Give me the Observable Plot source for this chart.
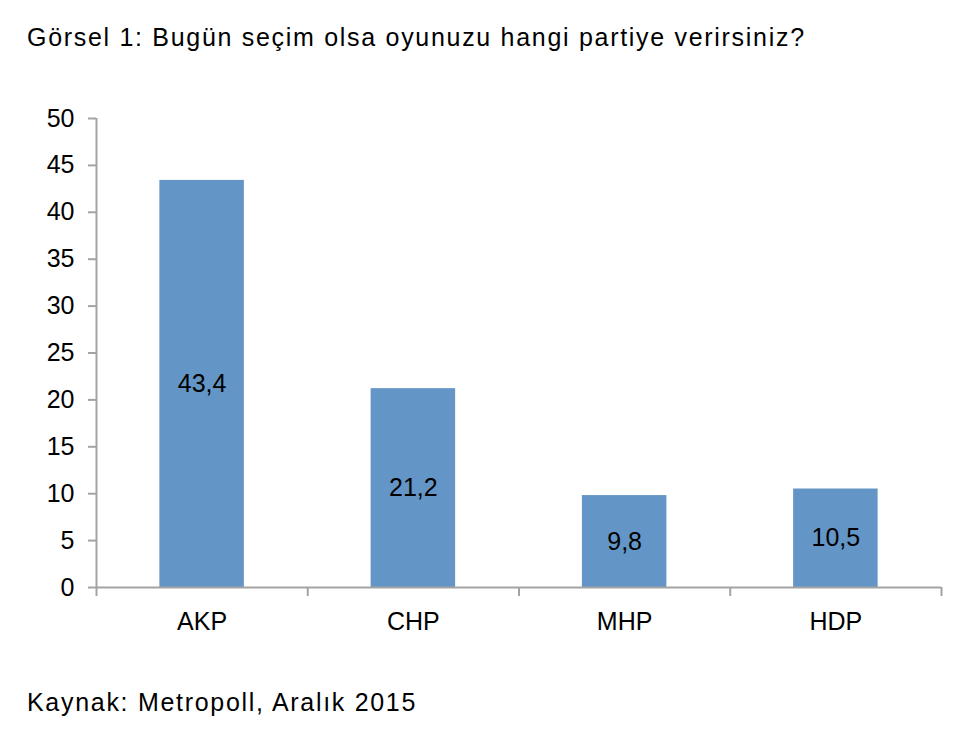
<!DOCTYPE html>
<html>
<head>
<meta charset="utf-8">
<script src="https://cdn.jsdelivr.net/npm/d3@7"></script>
<script src="https://cdn.jsdelivr.net/npm/@observablehq/plot@0.6"></script>
<style>
  body { margin: 0; background: #fff; font-family: "Liberation Sans", Arial, sans-serif; }
  #wrap { position: relative; width: 962px; height: 738px; }
  .title, .caption { position: absolute; left: 27px; font-size: 25px; line-height: 1; letter-spacing: 1.7px; color: #000; white-space: nowrap; }
  .title { top: 25px; }
  .caption { top: 690px; }
  #chart { position: absolute; left: 0; top: 80px; }
</style>
</head>
<body>
<div id="wrap">
  <div class="title">Görsel 1: Bugün seçim olsa oyunuzu hangi partiye verirsiniz?</div>
  <div id="chart"></div>
  <div class="caption">Kaynak: Metropoll, Aralık 2015</div>
</div>
<script>
const parties = ["AKP", "CHP", "MHP", "HDP"];
const shares = [43.4, 21.2, 9.8, 10.5];
const yTicks = [0, 5, 10, 15, 20, 25, 30, 35, 40, 45, 50];

const rows = parties.map((p, i) => ({party: p, i, value: shares[i]}));
const fmt = v => String(v).replace(".", ",");
const gray = "#a3a3a3";

const chart = Plot.plot({
  width: 962,
  height: 580,
  marginLeft: 96,
  marginRight: 21,
  marginTop: 38,
  marginBottom: 73,
  style: {fontFamily: "'Liberation Sans', Arial, sans-serif", fontSize: "25px", background: "white", color: "black"},
  x: {domain: [0, parties.length], axis: null},
  y: {domain: [0, 50], axis: null},
  marks: [
    Plot.rectY(rows, {x1: d => d.i + 0.3, x2: d => d.i + 0.7, y: "value", fill: "#6396c6"}),
    Plot.ruleX([0], {y1: 0, y2: 50, stroke: gray, strokeWidth: 2}),
    Plot.ruleY([0], {stroke: gray, strokeWidth: 2}),
    Plot.axisY({ticks: yTicks, tickSize: 8, tickPadding: 14, stroke: gray, strokeWidth: 2, fill: "black", fontSize: 25, label: null}),
    Plot.axisX({ticks: d3.range(parties.length + 1), tickSize: 9, stroke: gray, strokeWidth: 2, tickFormat: () => "", label: null}),
    Plot.axisX({ticks: rows.map(d => d.i + 0.5), tickSize: 0, tickPadding: 25, fill: "black", fontSize: 25,
      tickFormat: v => parties[Math.floor(v)], label: null}),
    Plot.text(rows, {x: d => d.i + 0.5, y: d => d.value / 2, text: d => fmt(d.value), fill: "black", fontSize: 25})
  ]
});
document.getElementById("chart").appendChild(chart);
</script>
</body>
</html>
